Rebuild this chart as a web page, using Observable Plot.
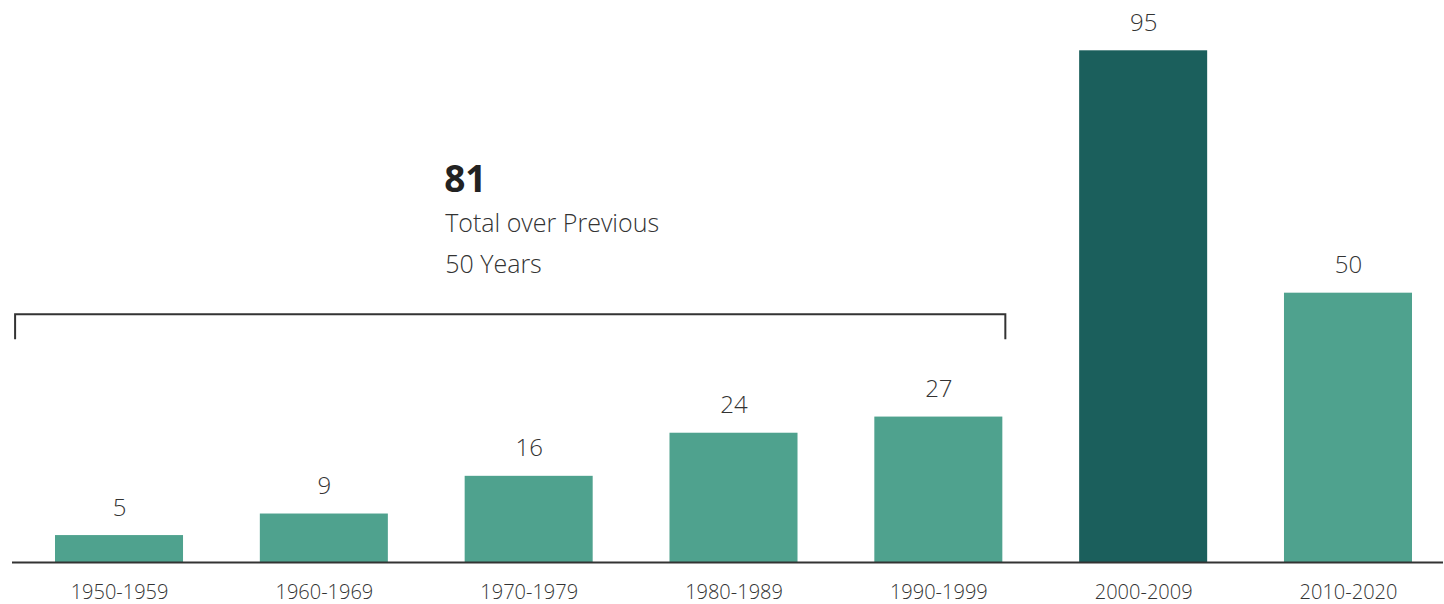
<!DOCTYPE html>
<html>
<head>
<meta charset="utf-8">
<script src="https://cdn.jsdelivr.net/npm/d3@7"></script>
<script src="https://cdn.jsdelivr.net/npm/@observablehq/plot@0.6"></script>
<style>
  html, body { margin: 0; padding: 0; background: #fff; }
  #chart { width: 1444px; height: 604px; }
  svg { font-family: "Open Sans", "Noto Sans", sans-serif; font-weight: 300; }
</style>
</head>
<body>
<div id="chart"></div>
<script>
// ---- data ----
const decades = ["1950-1959", "1960-1969", "1970-1979", "1980-1989", "1990-1999", "2000-2009", "2010-2020"];
const counts = [5, 9, 16, 24, 27, 95, 50];
const highlightDecade = "2000-2009";
const bracketDecades = ["1950-1959", "1990-1999"];
const annotationLines = ["Total over Previous", "50 Years"];

// ---- styles ----
const lightTeal = "#4fa28e";
const darkTeal = "#1b5f5c";
const ink = "#333333";

const data = decades.map((d, i) => ({decade: d, count: counts[i]}));
const bracketSet = decades.slice(decades.indexOf(bracketDecades[0]), decades.indexOf(bracketDecades[1]) + 1);
const total = d3.sum(data.filter(d => bracketSet.includes(d.decade)), d => d.count);

const bracketValue = 46;      // y (data units) of bracket top
const annoTopValue = 68.7;    // baseline of the big number
const annoLineValues = [61.3, 53.8];

function bracket(index, scales) {
  const x = scales.x, y = scales.y;
  const x0 = x.range()[0] - 1.5;
  const x1 = x(bracketDecades[1]) + x.bandwidth() + 3;
  const yt = y(bracketValue);
  const g = d3.create("svg:path")
    .attr("d", `M${x0},${yt + 25}V${yt}H${x1}V${yt + 25}`)
    .attr("fill", "none")
    .attr("stroke", ink)
    .attr("stroke-width", 2);
  return g.node();
}

const chart = Plot.plot({
  width: 1444,
  height: 604,
  marginLeft: 12,
  marginRight: 1,
  marginTop: 0,
  marginBottom: 42,
  x: {domain: decades, range: [16.6, 1450.4], paddingInner: 0.375, paddingOuter: 0.1875, round: false, label: null},
  y: {domain: [0, 95], range: [562, 50.3], axis: null},
  marks: [
    Plot.barY(data, {x: "decade", y: "count", fill: d => d.decade === highlightDecade ? darkTeal : lightTeal}),
    Plot.ruleY([0], {stroke: ink, strokeWidth: 2}),
    Plot.axisX({tickSize: 0, tickPadding: 22, fontSize: 20, fill: ink, label: null}),
    Plot.text(data, {x: "decade", y: "count", text: d => String(d.count), dy: -20, lineAnchor: "bottom", fontSize: 24, fill: ink}),
    bracket,
    Plot.text([String(total)], {x: () => decades[2], y: () => annoTopValue, text: d => d, dx: -85, textAnchor: "start", lineAnchor: "bottom", fontSize: 37, fontWeight: 700, fill: "#222"}),
    Plot.text(annotationLines, {x: () => decades[2], y: (d, i) => annoLineValues[i], text: d => d, dx: -84, textAnchor: "start", lineAnchor: "bottom", fontSize: 25, fill: ink})
  ]
});
document.getElementById("chart").appendChild(chart);
</script>
</body>
</html>
